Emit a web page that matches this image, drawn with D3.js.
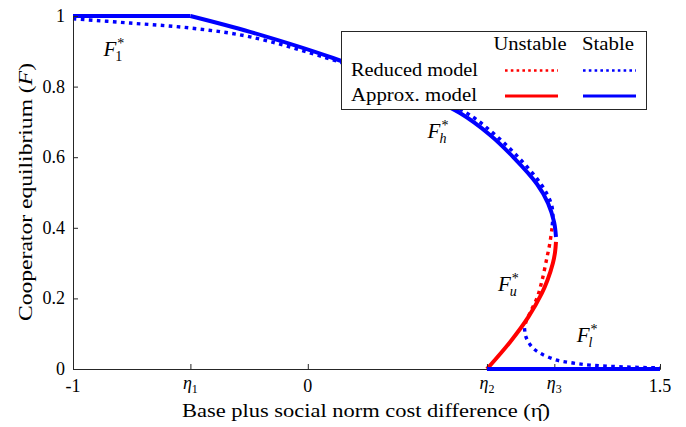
<!DOCTYPE html>
<html>
<head>
<meta charset="utf-8">
<script src="https://cdn.jsdelivr.net/npm/d3@7"></script>
<style>
  html, body { margin: 0; padding: 0; background: #fff; }
  svg { display: block; }
</style>
</head>
<body>
<svg id="chart" width="686" height="427" font-family="'Liberation Serif', 'Times New Roman', 'DejaVu Serif', serif"></svg>
<script>
// ---------------- data ----------------
const xTickValues = [-1, -0.5, 0, 0.763, 1.05, 1.5];
const xTickLabels = ["-1", "η|1", "0", "η|2", "η|3", "1.5"];
const yTickValues = [0, 0.2, 0.4, 0.6, 0.8, 1];
const yTickLabels = ["0", "0.2", "0.4", "0.6", "0.8", "1"];

// Approx. model (solid)
const approxStableFlat = [[-1, 1], [-0.5, 1]];
const approxStableHigh = [[-0.5, 1], [-0.246, 0.955], [0.107, 0.881], [0.393, 0.807], [0.648, 0.725], [0.776, 0.663], [0.874, 0.601], [0.976, 0.524], [1.023, 0.470], [1.049, 0.416], [1.057, 0.374]];
const approxUnstable = [[1.057, 0.360], [1.053, 0.331], [1.044, 0.300], [1.021, 0.252], [0.997, 0.215], [0.939, 0.147], [0.861, 0.076], [0.763, 0]];
const approxStableLow = [[0.763, 0], [1.5, 0]];

// Reduced model (dotted)
const reducedStableHigh = [[-1, 0.992], [-0.757, 0.980], [-0.502, 0.966], [-0.246, 0.941], [0.095, 0.878], [0.393, 0.810], [0.670, 0.728], [0.793, 0.666], [0.895, 0.601], [0.993, 0.524], [1.036, 0.470], [1.044, 0.436], [1.040, 0.402]];
const reducedUnstable = [[1.040, 0.399], [1.031, 0.357], [1.019, 0.317], [0.997, 0.249], [0.976, 0.201], [0.946, 0.159], [0.929, 0.133], [0.923, 0.116]];
const reducedStableLow = [[0.923, 0.116], [0.929, 0.091], [0.955, 0.062], [0.989, 0.045], [1.061, 0.025], [1.129, 0.017], [1.202, 0.011], [1.342, 0.006], [1.5, 0.003]];

const branchLabels = [
  { x: -0.87, y: 0.888, sub: "1" },
  { x: 0.51, y: 0.655, sub: "h" },
  { x: 0.81, y: 0.222, sub: "u" },
  { x: 1.145, y: 0.077, sub: "l" }
];

const legendCols = ["Unstable", "Stable"];
const legendRows = ["Reduced model", "Approx. model"];

// ---------------- layout ----------------
const svg = d3.select("#chart");
const x = d3.scaleLinear().domain([-1, 1.5]).range([73, 660]);
const y = d3.scaleLinear().domain([0, 1]).range([369, 16]);
const BLUE = "#0000ff", RED = "#ff0000", AXIS = "#262626";
const FONT = "'Liberation Serif', 'Times New Roman', 'DejaVu Serif', serif";

const line = d3.line().x(d => x(d[0])).y(d => y(d[1])).curve(d3.curveCatmullRom.alpha(0.5));
const lineLin = d3.line().x(d => x(d[0])).y(d => y(d[1]));

function txt(parent) {
  return parent.append("text").attr("font-family", FONT).attr("fill", "#000");
}

function dotted(data, color) {
  svg.append("path").attr("d", line(data)).attr("fill", "none")
    .attr("stroke", color).attr("stroke-width", 3.4).attr("stroke-dasharray", "3.6,4.4");
}
function solid(data, color, gen) {
  svg.append("path").attr("d", (gen || line)(data)).attr("fill", "none")
    .attr("stroke", color).attr("stroke-width", 4).attr("stroke-linejoin", "round");
}

dotted(reducedStableHigh, BLUE);
dotted(reducedUnstable, RED);
dotted(reducedStableLow, BLUE);

solid(approxStableFlat, BLUE, lineLin);
solid(approxStableHigh, BLUE);
solid(approxUnstable, RED);

// ---------------- axes ----------------
const xAxis = d3.axisBottom(x).tickValues(xTickValues).tickSize(-5).tickFormat(() => "");
const yAxis = d3.axisLeft(y).tickValues(yTickValues).tickSize(-5).tickFormat(() => "");
const gx = svg.append("g").attr("transform", `translate(0,${y(0)})`).call(xAxis);
const gy = svg.append("g").attr("transform", `translate(${x(-1)},0)`).call(yAxis);
[gx, gy].forEach(g => {
  g.select(".domain").attr("stroke", AXIS).attr("stroke-width", 1);
  g.selectAll(".tick line").attr("stroke", AXIS).attr("stroke-width", 1);
});
solid(approxStableLow, BLUE, lineLin);

// y tick labels
yTickValues.forEach((v, i) => {
  txt(svg).attr("x", 65).attr("y", y(v) + 6).attr("text-anchor", "end")
    .attr("font-size", 18).text(yTickLabels[i]);
});
// x tick labels
xTickValues.forEach((v, i) => {
  const lab = xTickLabels[i];
  if (lab.includes("|")) {
    const [main, sub] = lab.split("|");
    const t = txt(svg).attr("x", x(v)).attr("y", 389).attr("text-anchor", "middle").attr("font-size", 18);
    t.append("tspan").attr("font-style", "italic").text(main);
    t.append("tspan").attr("font-size", 12).attr("dy", 4).text(sub);
  } else {
    txt(svg).attr("x", x(v)).attr("y", 392).attr("text-anchor", "middle")
      .attr("font-size", 18).text(lab);
  }
});

// axis titles
txt(svg).attr("x", 366).attr("y", 417).attr("text-anchor", "middle")
  .attr("font-size", 19).attr("textLength", 368).attr("lengthAdjust", "spacingAndGlyphs")
  .text("Base plus social norm cost difference (η\u0302)");
const yl = txt(svg).attr("transform", "translate(32,192) rotate(-90)")
  .attr("text-anchor", "middle").attr("font-size", 19)
  .attr("textLength", 258).attr("lengthAdjust", "spacingAndGlyphs");
yl.append("tspan").text("Cooperator equilibrium (");
yl.append("tspan").attr("font-style", "italic").text("F");
yl.append("tspan").text(")");

// branch labels F*_sub
branchLabels.forEach(b => {
  const px = x(b.x), py = y(b.y);
  const f = txt(svg).attr("x", px).attr("y", py).attr("font-size", 21)
    .attr("font-style", "italic").text("F");
  const w = f.node().getComputedTextLength();
  txt(svg).attr("x", px + w + 1).attr("y", py - 8).attr("font-size", 14).text("*");
  txt(svg).attr("x", px + w - 1).attr("y", py + 5).attr("font-size", 14)
    .attr("font-style", b.sub === "1" ? "normal" : "italic").text(b.sub);
});

// ---------------- legend ----------------
const lg = svg.append("g");
lg.append("rect").attr("x", 341.5).attr("y", 31.5).attr("width", 305).attr("height", 78)
  .attr("fill", "#fff").attr("stroke", AXIS).attr("stroke-width", 1);
const colCx = [530, 608];
const colW = [73, 52];
legendCols.forEach((c, i) => {
  txt(lg).attr("x", colCx[i]).attr("y", 50).attr("text-anchor", "middle")
    .attr("font-size", 19).attr("textLength", colW[i]).attr("lengthAdjust", "spacingAndGlyphs").text(c);
});
const rowY = [70.5, 96];
const rowW = [127, 126];
legendRows.forEach((r, i) => {
  txt(lg).attr("x", 351).attr("y", rowY[i] + 5).attr("font-size", 19)
    .attr("textLength", rowW[i]).attr("lengthAdjust", "spacingAndGlyphs").text(r);
});
const legendSegs = [
  { r: 0, c: 0, color: RED, dash: true },
  { r: 0, c: 1, color: BLUE, dash: true },
  { r: 1, c: 0, color: RED, dash: false },
  { r: 1, c: 1, color: BLUE, dash: false }
];
legendSegs.forEach(s => {
  const cx = colCx[s.c] + 1;
  const p = lg.append("line").attr("x1", cx - 26).attr("x2", cx + 27)
    .attr("y1", rowY[s.r]).attr("y2", rowY[s.r]).attr("stroke", s.color);
  if (s.dash) p.attr("stroke-width", 2.6).attr("stroke-dasharray", "2.6,3.2");
  else p.attr("stroke-width", 3.2);
});
</script>
</body>
</html>
